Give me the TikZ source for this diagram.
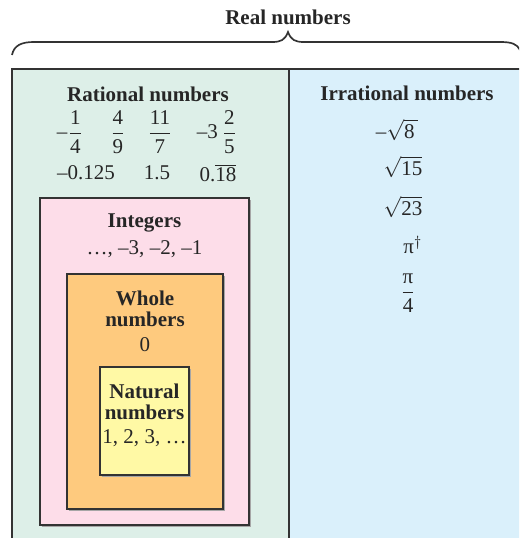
\documentclass[tikz,border=0pt]{standalone}
\usepackage{amsmath}
\usepackage{fontspec}
\setmainfont{Liberation Serif}
\definecolor{ratgreen}{RGB}{221,239,232}
\definecolor{irrblue}{RGB}{218,240,251}
\definecolor{intpink}{RGB}{253,221,233}
\definecolor{wholeorange}{RGB}{254,202,126}
\definecolor{natyellow}{RGB}{255,249,165}
\newcommand{\tfr}[2]{\dfrac{\text{#1}}{\text{#2}}}
\begin{document}
\begin{tikzpicture}[x=0.476pt, y=-0.476pt,
	every node/.style={font=\normalsize, inner sep=0.5pt, text=black!85},
	head/.style={font=\normalsize\bfseries, align=center, text=black!85},
	setbox/.style={draw=black!80, line width=0.7pt},
	shade/.style={draw=black!35, line width=0.7pt}]
	\useasboundingbox (0,0) rectangle (519,538);
	\clip (0,0) rectangle (519,538);
	% brace over the whole set
	\node[head] (real) at (288,17) {Real numbers};
	\draw[black!80, line width=0.8pt] (12,55) .. controls (14,45) and (22,42) .. (34,42) -- (272,42)
		.. controls (281,42) and (285,40) .. (288,32) .. controls (291,40) and (295,42) .. (304,42)
		-- (500,42) .. controls (512,42) and (517,44) .. (520,50);
	% outer box: rational and irrational parts
	\fill[ratgreen] (12,69) rectangle (289,545);
	\fill[irrblue] (289,69) rectangle (530,545);
	\draw[setbox] (12,545) -- (12,69) -- (530,69);
	\draw[setbox] (289,69) -- (289,545);
	\node[head] (rat) at (148,94) {Rational numbers};
	\node (ra) at (70,132) {–$\tfr{1}{4}$};
	\node (rb) at (118,132) {$\tfr{4}{9}$};
	\node (rc) at (160,132) {$\tfr{11}{7}$};
	\node (rd) at (217,132) {–3$\,\tfr{2}{5}$};
	\node (re) at (86,173) {–0.125};
	\node (rf) at (157,173) {1.5};
	\node (rg) at (218,173) {$\text{0.}\overline{\text{18}}$};
	\node[head] (irr) at (407,93) {Irrational numbers};
	\node (ia) at (397,130) {–$\sqrt{\text{8}\,}$};
	\node (ib) at (403,167) {$\sqrt{\text{15}}$};
	\node (ic) at (403,207) {$\sqrt{\text{23}}$};
	\node (id) at (413,245) {π$^\dagger$};
	\node (ie) at (408,293) {$\tfr{π}{4}$};
	% nested boxes
	\draw[shade] (41.5,526.5) -- (250.5,526.5) -- (250.5,199.5);
	\draw[setbox, fill=intpink] (40,198) rectangle (249,525);
	\node[head] (int) at (144.5,223) {Integers};
	\node (inta) at (144.5,249) {…, –3, –2, –1};
	\draw[shade] (68.5,510.5) -- (224.5,510.5) -- (224.5,275.5);
	\draw[setbox, fill=wholeorange] (67,274) rectangle (223,509);
	\node[head] (whole) at (145,309) {Whole\\[-2pt]numbers};
	\node (zero) at (145,345) {0};
	\draw[shade] (101.5,476.5) -- (190.5,476.5) -- (190.5,368.5);
	\draw[setbox, fill=natyellow] (100,367) rectangle (189,475);
	\node[head] (nat) at (144.5,402) {Natural\\[-2pt]numbers};
	\node (nata) at (144.5,438) {1, 2, 3, …};
\end{tikzpicture}
\end{document}
